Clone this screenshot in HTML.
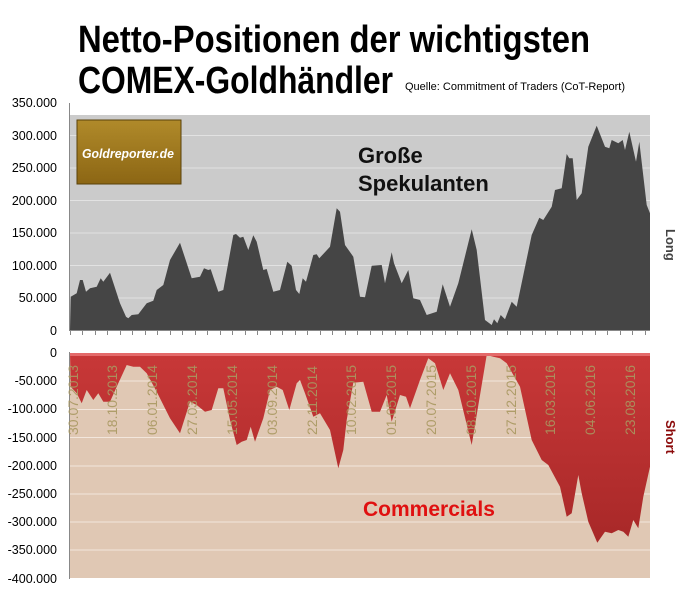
<!DOCTYPE html>
<html><head><meta charset="utf-8"><style>
html,body{margin:0;padding:0;background:#fff;}
svg{display:block;}
text{font-family:"Liberation Sans",sans-serif;}
</style></head><body>
<svg width="687" height="606" viewBox="0 0 687 606" xmlns="http://www.w3.org/2000/svg">
<defs>
<linearGradient id="gold" x1="0" y1="0" x2="0" y2="1">
<stop offset="0" stop-color="#b08a2a"/><stop offset="1" stop-color="#8c6614"/></linearGradient>
<linearGradient id="red" x1="0" y1="0" x2="0" y2="1">
<stop offset="0" stop-color="#c83838"/><stop offset="1" stop-color="#a82828"/></linearGradient>
</defs>
<text x="78" y="52" font-size="38" font-weight="bold" textLength="512" lengthAdjust="spacingAndGlyphs">Netto-Positionen der wichtigsten</text>
<text x="78" y="93" font-size="38" font-weight="bold" textLength="315" lengthAdjust="spacingAndGlyphs">COMEX-Goldhändler</text>
<text x="405" y="90" font-size="11" textLength="220" lengthAdjust="spacingAndGlyphs">Quelle: Commitment of Traders (CoT-Report)</text>

<!-- top chart -->
<rect x="70" y="115" width="580" height="215" fill="#cbcbcb"/>
<g stroke="#e2e2e2" stroke-width="1">
<line x1="70" y1="135.5" x2="650" y2="135.5"/><line x1="70" y1="168" x2="650" y2="168"/>
<line x1="70" y1="200.5" x2="650" y2="200.5"/><line x1="70" y1="233" x2="650" y2="233"/>
<line x1="70" y1="265.5" x2="650" y2="265.5"/><line x1="70" y1="298" x2="650" y2="298"/>
</g>
<polygon fill="#454545" points="70,330 70.7,296.7 76.7,293.3 80,280 82.7,280 86,291.7 90,288.3 96.7,286.7 100.7,278.3 103.3,281.7 110,272.7 120,303.3 126,316.7 128.3,318.3 131.7,315 138.3,314.3 146.7,303.3 153.3,300.7 156.7,290 163.3,285 170,260 180,242.7 191.7,278.3 200,276.7 204,268.3 208.3,270 210.7,269.3 218.3,291.7 223.3,290 233.3,235 236,234 240,237.7 243.3,236.7 248.3,250 253.3,235.3 256.7,241.7 263.3,270 266.7,269 273.3,291.7 280,290 287.3,261.7 291.7,265.7 296,290 299.3,294 302.7,278.3 306,281.7 313.3,255 316.7,254.3 319.3,258.3 330,246.7 336.7,208.3 340,211.7 345,245 353.3,256.7 360,296.7 365,297.3 371.7,265.7 381.7,265 385,283.3 391.7,252.3 394,263.3 401.7,283.3 408.3,270 413.3,298.3 420,300 426.7,315 436.7,311.7 442.7,284.3 450,306.7 458.3,283.3 471.7,229.3 476.7,250 485,320 491.7,325 494,319.3 497.3,323.3 500.7,315 505,319.3 511.7,301.7 516.7,306.7 531.7,235 539.3,217.7 543.3,220 551.7,206.7 555,190 561.7,188.3 566.7,154 569.3,158.3 572.7,158.3 576.7,200 581.7,193.3 588.3,146.7 596.7,125.7 605,146.7 609.3,148.3 611.7,140 618.3,143.3 622.7,140 625,150 629.3,131.7 636,161.7 639.3,141.7 646.7,205 650,213.3 650,330"/>
<line x1="70" y1="330.5" x2="650" y2="330.5" stroke="#888"/>
<line x1="69.5" y1="103" x2="69.5" y2="331" stroke="#888"/>
<g stroke="#888" stroke-width="1" id="ticks">
<path d="M70.5 330v5M82.5 330v5M95.5 330v5M107.5 330v5M120.5 330v5M132.5 330v5M145.5 330v5M157.5 330v5M170.5 330v5M182.5 330v5M195.5 330v5M207.5 330v5M220.5 330v5M232.5 330v5M245.5 330v5M257.5 330v5M270.5 330v5M282.5 330v5M295.5 330v5M307.5 330v5M320.5 330v5M332.5 330v5M345.5 330v5M357.5 330v5M370.5 330v5M382.5 330v5M395.5 330v5M407.5 330v5M420.5 330v5M432.5 330v5M445.5 330v5M457.5 330v5M470.5 330v5M482.5 330v5M495.5 330v5M507.5 330v5M520.5 330v5M532.5 330v5M545.5 330v5M557.5 330v5M570.5 330v5M582.5 330v5M595.5 330v5M607.5 330v5M620.5 330v5M632.5 330v5M645.5 330v5"/>
</g>
<g font-size="12.5" text-anchor="end" fill="#000">
<text x="57" y="107">350.000</text><text x="57" y="140">300.000</text><text x="57" y="172">250.000</text>
<text x="57" y="205">200.000</text><text x="57" y="237">150.000</text><text x="57" y="270">100.000</text>
<text x="57" y="302">50.000</text><text x="57" y="335">0</text></g>
<rect x="77" y="120" width="104" height="64" fill="url(#gold)" stroke="#5a420a" stroke-width="1"/>
<text x="82" y="158" font-size="13" font-weight="bold" font-style="italic" fill="#fff" textLength="92" lengthAdjust="spacingAndGlyphs">Goldreporter.de</text>
<text x="358" y="163" font-size="22" font-weight="bold" fill="#111">Große</text>
<text x="358" y="191" font-size="22" font-weight="bold" fill="#111">Spekulanten</text>
<text transform="translate(666,229) rotate(90)" font-size="13" font-weight="bold" fill="#444">Long</text>

<!-- bottom chart -->
<rect x="70" y="353" width="580" height="225" fill="#e0c8b4"/>
<g stroke="#f2e6dc" stroke-width="1">
<line x1="70" y1="381" x2="650" y2="381"/><line x1="70" y1="409.5" x2="650" y2="409.5"/>
<line x1="70" y1="437.5" x2="650" y2="437.5"/><line x1="70" y1="466" x2="650" y2="466"/>
<line x1="70" y1="494" x2="650" y2="494"/><line x1="70" y1="522" x2="650" y2="522"/>
<line x1="70" y1="550" x2="650" y2="550"/>
</g>
<polygon fill="url(#red)" points="70,353 70.7,386.7 76.7,393.3 81.7,403.3 86.7,390 93.3,400 98.3,393.3 103.3,401.7 110,401.7 118.3,383.3 126.7,365 133.3,366.7 140,366.7 146.7,373.3 156.7,391.7 170,418.3 180,433.3 190,401.7 196.7,405 205,411.7 211.7,410 218.3,388.3 223.3,388.3 230,420 236.7,445 241.7,441.7 246.7,440 250.7,426.7 255,441.7 263.3,418.3 270,390 276.7,386.7 282.7,390 289.3,410 296.7,383.3 300,380 305,393.3 313.3,416.7 320,413.3 330,430 338.3,468.3 343.3,450 346.7,420 353.3,382.7 363.3,381.7 371.7,411.7 380,411.7 386.7,395 391.7,421.7 400,395 406,396.7 410,408.3 420,380 428.3,358.3 435,363.3 443.3,390 450,373.3 458.3,390 471.7,445 486.7,355 493.3,356.7 500,358.3 506.7,363.3 520,386.7 531.7,440 541.7,460 548.3,465 560,486.7 566.7,516.7 571.7,513.3 578.3,475 581.7,493.3 588.3,521.7 597.3,542.7 605,531.7 611.7,533.3 618.3,530 623.3,531.7 628.3,536.7 633.3,520 638.3,528.3 643.3,496.7 650,466.7 650,353"/>
<rect x="70" y="353" width="580" height="3" fill="#e46a6a"/>
<line x1="69.5" y1="352" x2="69.5" y2="579" stroke="#888"/>
<g font-size="12.5" text-anchor="end" fill="#000">
<text x="57" y="357">0</text><text x="57" y="385">-50.000</text><text x="57" y="413">-100.000</text>
<text x="57" y="442">-150.000</text><text x="57" y="470">-200.000</text><text x="57" y="498">-250.000</text>
<text x="57" y="526">-300.000</text><text x="57" y="554">-350.000</text><text x="57" y="583">-400.000</text></g>
<g font-size="14" fill="#a89860" fill-opacity="0.9">
<text transform="translate(78,435) rotate(-90)">30.07.2013</text>
<text transform="translate(117,435) rotate(-90)">18.10.2013</text>
<text transform="translate(157,435) rotate(-90)">06.01.2014</text>
<text transform="translate(197,435) rotate(-90)">27.03.2014</text>
<text transform="translate(237,435) rotate(-90)">15.05.2014</text>
<text transform="translate(277,435) rotate(-90)">03.09.2014</text>
<text transform="translate(317,435) rotate(-90)">22.11.2014</text>
<text transform="translate(356,435) rotate(-90)">10.02.2015</text>
<text transform="translate(396,435) rotate(-90)">01.05.2015</text>
<text transform="translate(436,435) rotate(-90)">20.07.2015</text>
<text transform="translate(476,435) rotate(-90)">08.10.2015</text>
<text transform="translate(516,435) rotate(-90)">27.12.2015</text>
<text transform="translate(555,435) rotate(-90)">16.03.2016</text>
<text transform="translate(595,435) rotate(-90)">04.06.2016</text>
<text transform="translate(635,435) rotate(-90)">23.08.2016</text>
</g>
<text x="363" y="516" font-size="21" font-weight="bold" fill="#e01010">Commercials</text>
<text transform="translate(666,420) rotate(90)" font-size="13" font-weight="bold" fill="#8b0a0a">Short</text>
</svg>
</body></html>
